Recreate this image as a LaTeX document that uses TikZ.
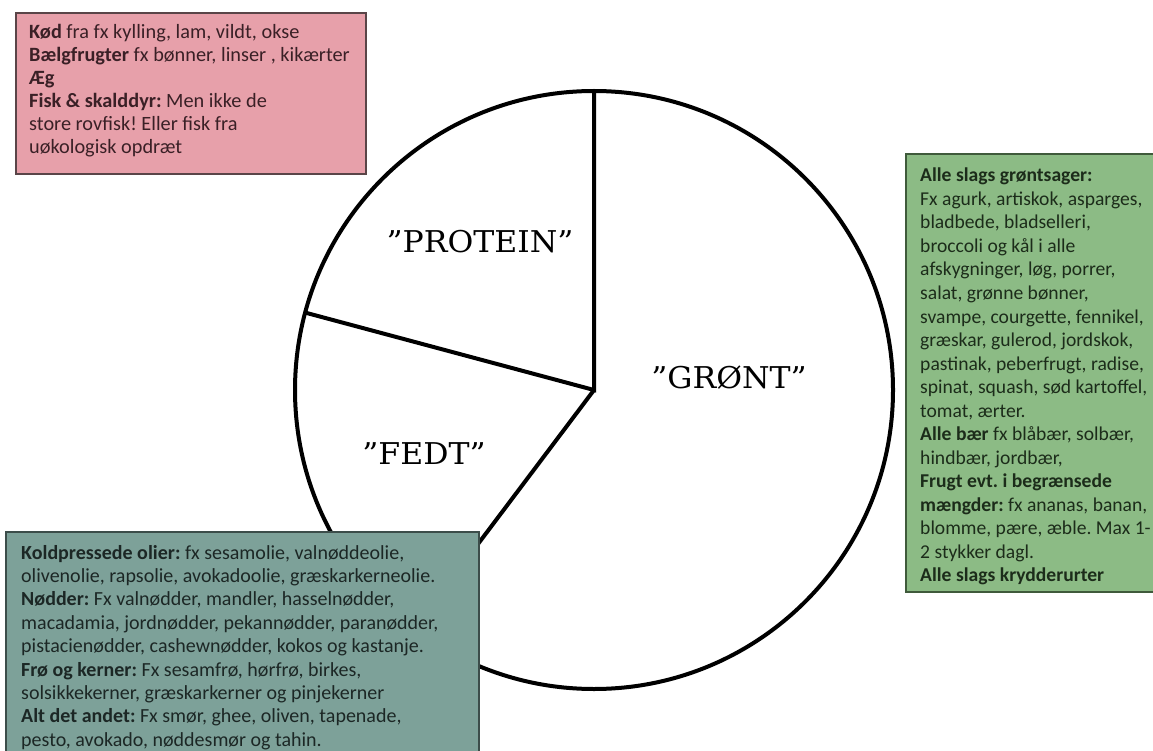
\documentclass[tikz,border=0pt]{standalone}
\usepackage{fontspec}
\setmainfont{Carlito}
\newfontfamily\labelfont[FakeStretch=1.05]{DejaVu Serif}
\definecolor{pinkfill}{HTML}{E7A0AA}
\definecolor{pinkedge}{HTML}{5A4548}
\definecolor{pinktext}{HTML}{3A2026}
\definecolor{greenfill}{HTML}{8CBB85}
\definecolor{greenedge}{HTML}{3F5A3B}
\definecolor{greentext}{HTML}{1C2C1A}
\definecolor{tealfill}{HTML}{7DA199}
\definecolor{tealedge}{HTML}{3C4D4A}
\definecolor{tealtext}{HTML}{1C2725}
\frenchspacing
\begin{document}
\begin{tikzpicture}[x=1pt,y=-1pt,
  pie/.style={draw=black, line width=4pt, line join=miter},
  lbl/.style={inner sep=0pt, font=\labelfont\fontsize{30}{33}\selectfont},
  txt/.style={anchor=base west, inner sep=0pt, font=\fontsize{20}{23}\selectfont},
  ptxt/.style={anchor=base west, inner sep=0pt, text=pinktext, font=\fontsize{20.3}{23}\selectfont},
  gtxt/.style={anchor=base west, inner sep=0pt, text=greentext, font=\fontsize{19.6}{23}\selectfont},
  pinkbox/.style={draw=pinkedge, fill=pinkfill, line width=1.6pt},
  greenbox/.style={draw=greenedge, fill=greenfill, line width=1.6pt},
  tealbox/.style={draw=tealedge, fill=tealfill, line width=1.6pt}]
\clip (0,0) rectangle (1153,751);
\fill[white] (0,0) rectangle (1153,751);
% pie
\coordinate (C) at (594,390);
\coordinate (T) at (594,91);
\coordinate (L) at (305.2,312.6);
\coordinate (B) at (414,629);
\draw[pie] (C) circle[radius=299];
\draw[pie] (T) -- (C) -- (L);
\draw[pie] (C) -- (B);
\node[lbl] (protein) at (480,242) {”PROTEIN”};
\node[lbl] (gront) at (729,378) {”GRØNT”};
\node[lbl] (fedt) at (424,454) {”FEDT”};
% protein box
\draw[pinkbox] (16,13) rectangle (366,174);
\node[ptxt] (p1) at (29,39) {\textbf{Kød} fra fx kylling, lam, vildt, okse};
\node[ptxt] (p2) at (29,62) {\textbf{Bælgfrugter} fx bønner, linser , kikærter};
\node[ptxt] (p3) at (29,85) {\textbf{Æg}};
\node[ptxt] (p4) at (29,108) {\textbf{Fisk \& skalddyr:} Men ikke de};
\node[ptxt] (p5) at (29,131) {store rovfisk! Eller fisk fra};
\node[ptxt] (p6) at (29,154) {uøkologisk opdræt};
% green box
\draw[greenbox] (906,154) rectangle (1175,592);
\foreach \t [count=\i] in {
  {\textbf{Alle slags grøntsager:}},
  {Fx agurk, artiskok, asparges,},
  {bladbede, bladselleri,},
  {broccoli og kål i alle},
  {afskygninger, løg, porrer,},
  {salat, grønne bønner,},
  {svampe, courgette, fennikel,},
  {græskar, gulerod, jordskok,},
  {pastinak, peberfrugt, radise,},
  {spinat, squash, sød kartoffel,},
  {tomat, ærter.},
  {\textbf{Alle bær} fx blåbær, solbær,},
  {hindbær, jordbær,},
  {\textbf{Frugt evt. i begrænsede}},
  {\textbf{mængder:} fx ananas, banan,},
  {blomme, pære, æble. Max 1-},
  {2 stykker dagl.},
  {\textbf{Alle slags krydderurter}}}
  \node[gtxt] (g\i) at (920,{182+23.5*(\i-1)}) {\t};
% fat box
\draw[tealbox] (6,532) rectangle (479,770);
\foreach \t [count=\i] in {
  {\textbf{Koldpressede olier:} fx sesamolie, valnøddeolie,},
  {olivenolie, rapsolie, avokadoolie, græskarkerneolie.},
  {\textbf{Nødder:} Fx valnødder, mandler, hasselnødder,},
  {macadamia, jordnødder, pekannødder, paranødder,},
  {pistacienødder, cashewnødder, kokos og kastanje.},
  {\textbf{Frø og kerner:} Fx sesamfrø, hørfrø, birkes,},
  {solsikkekerner, græskarkerner og pinjekerner},
  {\textbf{Alt det andet:} Fx smør, ghee, oliven, tapenade,},
  {pesto, avokado, nøddesmør og tahin.}}
  \node[txt, text=tealtext] (f\i) at (21,{559+23.4*(\i-1)}) {\t};
\end{tikzpicture}
\end{document}
